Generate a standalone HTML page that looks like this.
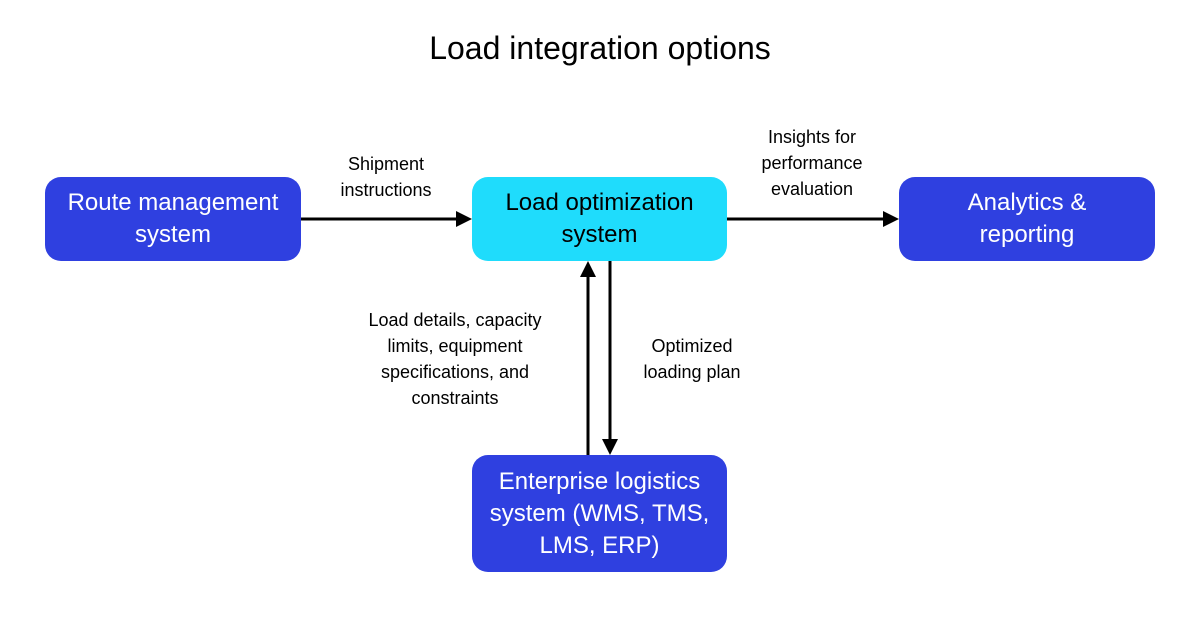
<!DOCTYPE html>
<html><head><style>
body{margin:0;width:1200px;height:630px;background:#fff;position:relative;font-family:"Liberation Sans",sans-serif;overflow:hidden}
.b{position:absolute;border-radius:16px;display:flex;align-items:center;justify-content:center;text-align:center;font-size:24px;line-height:32px;color:#fff;background:#2f40e0}
.t{position:absolute;font-size:18px;line-height:26px;color:#000;text-align:center}
</style></head><body>
<div class="t" style="left:0;width:1200px;top:28px;font-size:32px;line-height:40px">Load integration options</div>
<div class="b" style="left:45px;top:177px;width:256px;height:84px">Route management<br>system</div>
<div class="b" style="left:472px;top:177px;width:255px;height:84px;background:#1fdcfc;color:#000">Load optimization<br>system</div>
<div class="b" style="left:899px;top:177px;width:256px;height:84px">Analytics &amp;<br>reporting</div>
<div class="b" style="left:472px;top:455px;width:255px;height:117px">Enterprise logistics<br>system (WMS, TMS,<br>LMS, ERP)</div>
<div class="t" style="left:316px;width:140px;top:151px">Shipment<br>instructions</div>
<div class="t" style="left:737px;width:150px;top:124px">Insights for<br>performance<br>evaluation</div>
<div class="t" style="left:340px;width:230px;top:307px">Load details, capacity<br>limits, equipment<br>specifications, and<br>constraints</div>
<div class="t" style="left:632px;width:120px;top:333px">Optimized<br>loading plan</div>
<svg width="1200" height="630" style="position:absolute;left:0;top:0">
<g stroke="#000" stroke-width="3" fill="none">
<line x1="301" y1="219" x2="458" y2="219"/>
<line x1="727" y1="219" x2="886" y2="219"/>
<line x1="588" y1="455" x2="588" y2="274"/>
<line x1="610" y1="261" x2="610" y2="442"/>
</g>
<g fill="#000">
<polygon points="472,219 456,211 456,227"/>
<polygon points="899,219 883,211 883,227"/>
<polygon points="588,261 580,277 596,277"/>
<polygon points="610,455 602,439 618,439"/>
</g>
</svg>
</body></html>
